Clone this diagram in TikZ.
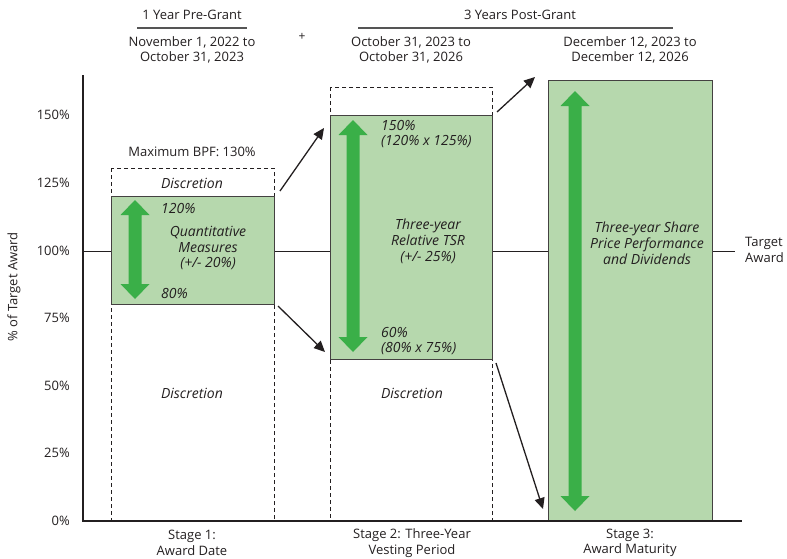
\documentclass[tikz,border=0pt]{standalone}
\usepackage{fontspec}
\setmainfont{Open Sans}
\usetikzlibrary{arrows.meta}
\definecolor{lg}{HTML}{B6D8AD}
\definecolor{ag}{HTML}{3AAF48}
\definecolor{tx}{HTML}{231F20}
\definecolor{hl}{HTML}{555555}
\newcommand\greenarrow[3]{%
  \fill[ag] (#1,#2) -- ({#1+14.5},{#2+15}) -- ({#1+6.5},{#2+15}) -- ({#1+6.5},{#3-15}) -- ({#1+14.5},{#3-15}) -- (#1,#3) -- ({#1-14.5},{#3-15}) -- ({#1-6.5},{#3-15}) -- ({#1-6.5},{#2+15}) -- ({#1-14.5},{#2+15}) -- cycle;}
\begin{document}
\begin{tikzpicture}[x=1pt,y=-1pt,
  txt/.style={text=tx,font=\fontsize{13}{15.5}\selectfont,align=center,inner sep=0pt},
  itx/.style={txt,font=\fontsize{14}{15.8}\selectfont\itshape},
  tick/.style={txt,anchor=east},
  dbox/.style={draw=tx,dashed,dash pattern=on 4pt off 3pt,line width=0.9pt},
  gbox/.style={fill=lg,draw=tx!85,line width=1pt},
  blk/.style={draw=tx,line width=1.3pt,-{Triangle[length=11pt,width=10pt]}},
  hline/.style={draw=hl,line width=1.4pt}]
\useasboundingbox (0,0) rectangle (787,558);
% headers
\node[txt] (h1) at (192,15) {1 Year Pre-Grant};
\draw[hline] (137,28) -- (247,28);
\node[txt] (h2) at (520,15) {3 Years Post-Grant};
\draw[hline] (358,28) -- (673,28);
\node[txt] (d1) at (192,50) {November 1, 2022 to\\October 31, 2023};
\node[txt] (plus) at (302,37) {\fontsize{12}{12}\selectfont +};
\node[txt] (d2) at (411,50) {October 31, 2023 to\\October 31, 2026};
\node[txt] (d3) at (630,50) {December 12, 2023 to\\December 12, 2026};
% axis
\node[txt,rotate=90] (ylab) at (14,287) {\% of Target Award};
\foreach \v/\yy in {0/521,25/453,50/386,75/318,100/251,125/183,150/115}
  \node[tick] (t\v) at (70,\yy) {\v\%};
\draw[draw=tx,line width=1pt] (83,251) -- (735,251);
% stage 1
\draw[dbox] (111,168) rectangle (274,521);
\draw[gbox] (111,196) rectangle (274,304);
\greenarrow{135}{200}{299}
\node[txt] (bpf) at (192,152) {Maximum BPF: 130\%};
\node[itx] (disc1a) at (192,183) {Discretion};
\node[itx,anchor=west] (p120) at (161,208) {120\%};
\node[itx] (qm) at (208,248) {Quantitative\\Measures\\(+/- 20\%)};
\node[itx,anchor=west] (p80) at (161,293) {80\%};
\node[itx] (disc1b) at (192,393) {Discretion};
% stage 2
\draw[dbox] (330,87) rectangle (492,521);
\draw[gbox] (330,115) rectangle (492,359);
\greenarrow{353}{120}{352}
\node[itx,anchor=west,align=left] (p150) at (381,134) {150\%\\(120\% x 125\%)};
\node[itx] (tsr) at (428,241) {Three-year\\Relative TSR\\(+/- 25\%)};
\node[itx,anchor=west,align=left] (p60) at (381,341) {60\%\\(80\% x 75\%)};
\node[itx] (disc2) at (412,393) {Discretion};
% stage 3
\draw[gbox] (548,80) rectangle (712,521);
\greenarrow{575}{91}{511}
\node[itx] (sp) at (647,243) {Three-year Share\\Price Performance\\and Dividends};
\node[txt,align=left,anchor=west] (ta) at (745,250) {Target\\Award};
% bottom axis
\draw[draw=tx,line width=1.2pt] (83,75) -- (83,521) -- (742,521);
\node[txt] (s1) at (192,543) {Stage 1:\\Award Date};
\node[txt] (s2) at (412,543) {Stage 2: Three-Year\\Vesting Period};
\node[txt] (s3) at (630,543) {Stage 3:\\Award Maturity};
% black arrows
\coordinate (a1s) at (280,191); \coordinate (a1e) at (324,128);
\coordinate (a2s) at (278,306); \coordinate (a2e) at (325,352);
\coordinate (a3s) at (497,112); \coordinate (a3e) at (535,77);
\coordinate (a4s) at (496,363); \coordinate (a4e) at (543,509);
\draw[blk] (a1s) -- (a1e);
\draw[blk] (a2s) -- (a2e);
\draw[blk] (a3s) -- (a3e);
\draw[blk] (a4s) -- (a4e);
\end{tikzpicture}
\end{document}
